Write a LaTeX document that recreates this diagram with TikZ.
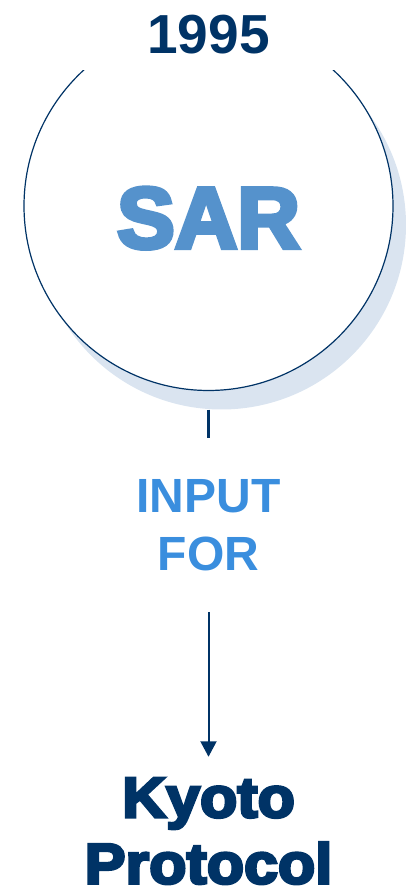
\documentclass[tikz,border=0pt]{standalone}
\usepackage{fontspec}
\setmainfont{Liberation Sans}
\newfontfamily\heavyfont{Liberation Sans}[UprightFont={* Bold},UprightFeatures={FakeBold=5}]
\newfontfamily\widefont{Liberation Sans}[UprightFont={* Bold},UprightFeatures={FakeBold=5,FakeStretch=1.07}]
\usetikzlibrary{arrows.meta,positioning}
\definecolor{navy}{RGB}{0,51,102}
\definecolor{sarblue}{RGB}{85,146,204}
\definecolor{skyblue}{RGB}{58,142,222}
\definecolor{shade}{RGB}{218,228,240}
\tikzset{
  ring/.style     = {draw=navy, line width=1.2pt, circle, fill=white,
                     minimum size=369pt, inner sep=0pt},
  ringshade/.style = {circle, fill=shade, minimum size=369pt, inner sep=0pt},
  caption/.style  = {inner sep=0pt, align=center},
  sig/.style      = {-{Triangle[length=15.5pt,width=16pt]}, line width=2pt, draw=navy},
}

\begin{document}
\begin{tikzpicture}[x=1pt,y=1pt]
\useasboundingbox (0,0) rectangle (405,896);
\node[ringshade] (shade) at (221.5,671) {};
\node[ring] (sar) at (208.5,690) {};
\node[inner sep=0pt,anchor=base,text=sarblue,font=\heavyfont\fontsize{86.6}{100}\selectfont] (sarname) at (208.5,648) {SAR};
\node[fill=white,minimum width=380pt,minimum height=70pt,inner sep=0pt,text=navy,
      font=\bfseries\fontsize{55}{66}\selectfont] (year) at (208.5,861) {1995};
\node[caption,text=skyblue,font=\bfseries\fontsize{48}{57.7}\selectfont] (input) at (208.5,371) {INPUT\\FOR};
\node[caption,text=navy,font=\widefont\fontsize{57}{66.3}\selectfont] (kyoto) at (208.5,65) {Kyoto\\Protocol};
\draw[navy,line width=2.4pt,shorten >=41pt] (shade.south -| input.north) -- (input.north);
\draw[sig,shorten <=41pt,shorten >=21pt] (input.south) -- (kyoto.north);
\end{tikzpicture}
\end{document}
